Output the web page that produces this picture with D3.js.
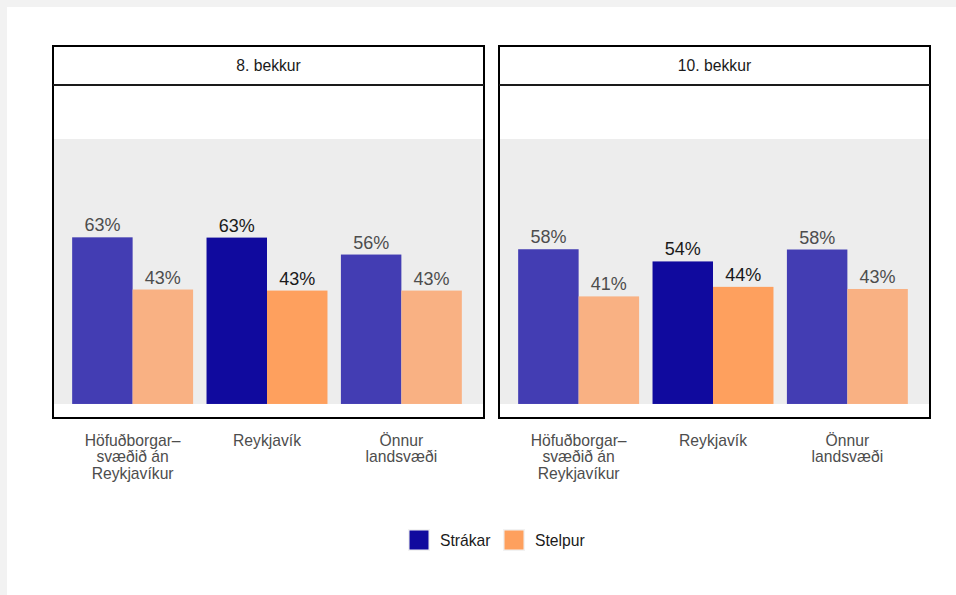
<!DOCTYPE html>
<meta charset="utf-8">
<head>
<style>
  body {
    margin: 0;
    background-color: #f2f2f2;
    font-family: 'Liberation Sans', Arial, sans-serif;
  }
  #chart {
    position: absolute;
    left: 7px;
    top: 7px;
  }
</style>
</head>
<body>
<div id="chart"></div>

<script src="https://d3js.org/d3.v7.min.js"></script>
<script>

// data
var facets = ["8. bekkur", "10. bekkur"];
var regions = ["Höfuðborgar–\nsvæðið án\nReykjavíkur", "Reykjavík", "Önnur\nlandsvæði"];
var genders = ["Strákar", "Stelpur"];
var highlight = "Reykjavík";

var strakar8  = [62.9, 62.8, 56.4];
var stelpur8  = [43.2, 42.8, 42.8];
var strakar10 = [58.4, 53.8, 58.3];
var stelpur10 = [40.6, 44.2, 43.4];

// build long table from the arrays
var values = {
  "8. bekkur":  {"Strákar": strakar8,  "Stelpur": stelpur8},
  "10. bekkur": {"Strákar": strakar10, "Stelpur": stelpur10}
};
var data = [];
facets.forEach(function(f) {
  regions.forEach(function(r, i) {
    genders.forEach(function(g) {
      data.push({facet: f, region: r, gender: g, value: values[f][g][i]});
    });
  });
});

var W = 949, H = 588;
var fullColor = {"Strákar": "#100a9e", "Stelpur": "#fea05e"};
var fadeColor = {"Strákar": "#433db3", "Stelpur": "#f9b183"};

var svg = d3.select("#chart").append("svg")
  .attr("width", W)
  .attr("height", H)
  .style("background", "#ffffff");

// panel geometry (in svg coords, offset 7px from page)
var panelX = [46, 492], panelW = 431;
var stripTop = 39, stripH = 39, panelTop = 78, panelBottom = 411;

var y = d3.scaleLinear()
  .domain([-5.3, 120.4])
  .range([panelBottom, panelTop]);

facets.forEach(function(f, fi) {
  var x0 = panelX[fi];
  var g = svg.append("g");

  var x = d3.scaleBand()
    .domain(regions)
    .range([x0 - 1, x0 + panelW - 2])
    .paddingInner(0.1)
    .paddingOuter(0.15);
  var xg = d3.scaleBand()
    .domain(genders)
    .range([0, x.bandwidth()]);

  // grey 0-100 band
  g.append("rect")
    .attr("x", x0 + 1)
    .attr("y", y(100))
    .attr("width", panelW - 2)
    .attr("height", y(0) - y(100))
    .attr("fill", "#ededed");

  var fd = data.filter(function(d) { return d.facet === f; });

  g.selectAll(".bar")
    .data(fd)
    .enter()
    .append("rect")
      .attr("class", "bar")
      .attr("x", function(d) { return x(d.region) + xg(d.gender); })
      .attr("y", function(d) { return y(d.value); })
      .attr("width", xg.bandwidth())
      .attr("height", function(d) { return y(0) - y(d.value); })
      .attr("fill", function(d) { return d.region === highlight ? fullColor[d.gender] : fadeColor[d.gender]; });

  g.selectAll(".lab")
    .data(fd)
    .enter()
    .append("text")
      .attr("class", "lab")
      .attr("x", function(d) { return x(d.region) + xg(d.gender) + xg.bandwidth() / 2; })
      .attr("y", function(d) { return y(d.value) - 6; })
      .attr("text-anchor", "middle")
      .style("font-size", "18px")
      .attr("fill", function(d) { return d.region === highlight ? "#1a1a1a" : "#4d4d4d"; })
      .text(function(d) { return Math.round(d.value) + "%"; });

  // panel border
  g.append("rect")
    .attr("x", x0)
    .attr("y", stripTop)
    .attr("width", panelW)
    .attr("height", panelBottom - stripTop)
    .attr("fill", "none")
    .attr("stroke", "#000")
    .attr("stroke-width", 2);
  // strip
  g.append("line")
    .attr("x1", x0).attr("x2", x0 + panelW)
    .attr("y1", stripTop + stripH).attr("y2", stripTop + stripH)
    .attr("stroke", "#1a1a1a")
    .attr("stroke-width", 2);
  g.append("text")
    .attr("x", x0 + panelW / 2)
    .attr("y", stripTop + stripH / 2 + 5)
    .attr("text-anchor", "middle")
    .style("font-size", "15.7px")
    .attr("fill", "#1a1a1a")
    .text(f);

  // x axis labels
  var ax = g.selectAll(".xlab")
    .data(regions)
    .enter()
    .append("text")
      .attr("class", "xlab")
      .attr("x", function(d) { return x(d) + x.bandwidth() / 2; })
      .attr("y", 439)
      .attr("text-anchor", "middle")
      .style("font-size", "15.7px")
      .attr("fill", "#4d4d4d");
  ax.selectAll("tspan")
    .data(function(d) { return d.split("\n"); })
    .enter()
    .append("tspan")
      .attr("x", function() { return d3.select(this.parentNode).attr("x"); })
      .attr("dy", function(d, i) { return i === 0 ? 0 : 16.3; })
      .text(function(d) { return d; });
});

// legend
var legX = [401, 496];
var leg = svg.selectAll(".leg")
  .data(genders)
  .enter()
  .append("g")
    .attr("class", "leg")
    .attr("transform", function(d, i) { return "translate(" + legX[i] + ",522)"; });
leg.append("rect")
  .attr("width", 22).attr("height", 22)
  .attr("fill", "#f2f2f2");
leg.append("rect")
  .attr("x", 1.5).attr("y", 1.5)
  .attr("width", 19).attr("height", 19)
  .attr("fill", function(d) { return fullColor[d]; });
leg.append("text")
  .attr("x", 32)
  .attr("y", 16.5)
  .style("font-size", "15.7px")
  .attr("fill", "#1a1a1a")
  .text(function(d) { return d; });

</script>
</body>
